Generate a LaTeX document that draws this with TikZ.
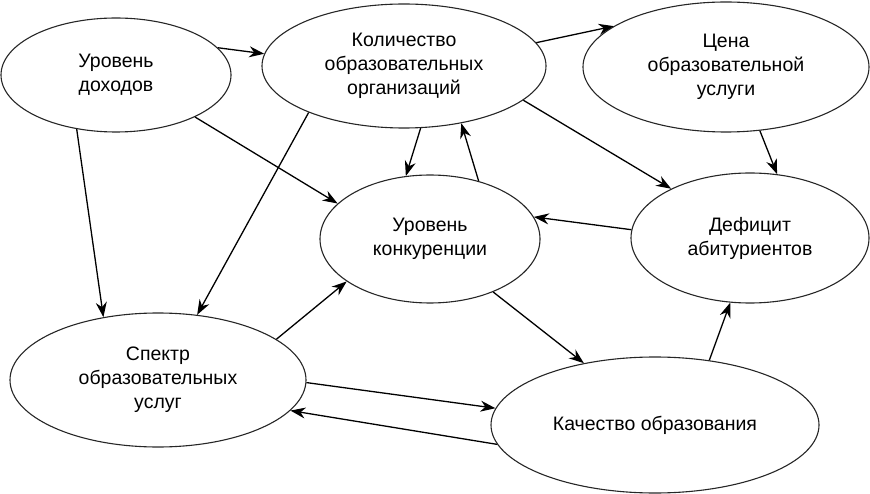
\documentclass[tikz,border=0pt]{standalone}
\usepackage{fontspec}
\setmainfont{Liberation Sans}
\usetikzlibrary{shapes.geometric,arrows.meta}
\begin{document}
\begin{tikzpicture}[x=1pt,y=-1pt,
  bubble/.style={draw=black!85,line width=1.1pt,ellipse,inner sep=0pt,align=center,
    font=\fontsize{19.5}{24}\selectfont},
  link/.style={line width=1.3pt,-{Stealth[length=15pt,width=11pt]}}]
\useasboundingbox (0,0) rectangle (870,494);
\node[bubble,minimum width=230pt,minimum height=114pt] (dox) at (116,75) {Уровень\\доходов};
\node[bubble,minimum width=284pt,minimum height=124pt] (kol) at (404,66) {Количество\\образовательных\\организаций};
\node[bubble,minimum width=286pt,minimum height=130pt] (cena) at (726,67) {Цена\\образовательной\\услуги};
\node[bubble,minimum width=220pt,minimum height=128pt] (konk) at (430,239) {Уровень\\конкуренции};
\node[bubble,minimum width=238pt,minimum height=130pt] (def) at (750,238) {Дефицит\\абитуриентов};
\node[bubble,minimum width=296pt,minimum height=134pt] (spek) at (158,380) {Спектр\\образовательных\\услуг};
\node[bubble,minimum width=328pt,minimum height=136pt] (kach) at (655,425) {Качество образования};
\draw[link] (dox.15.3) -- (kol.175.6);
\draw[link] (dox.-28) -- (konk.159.2);
\draw[link] (dox.234.7) -- (spek.131.8);
\draw[link] (kol.10.8) -- (cena.160.8);
\draw[link] (kol.206.8) -- (spek.59.8);
\draw[link] (kol.-75.5) -- (konk.111.6);
\draw[link] (konk.50.9) -- (kol.-45.5);
\draw[link] (kol.-16.8) -- (def.148);
\draw[link] (cena.-62) -- (def.67.9);
\draw[link] (def.176.1) -- (konk.12);
\draw[link] (spek.19) -- (konk.207.4);
\draw[link] (konk.-40) -- (kach.139.7);
\draw[link] (spek.-1.5) -- (kach.174.6);
\draw[link] (kach.187.2) -- (spek.-13.1);
\draw[link] (kach.50) -- (def.-107.9);
\end{tikzpicture}
\end{document}
